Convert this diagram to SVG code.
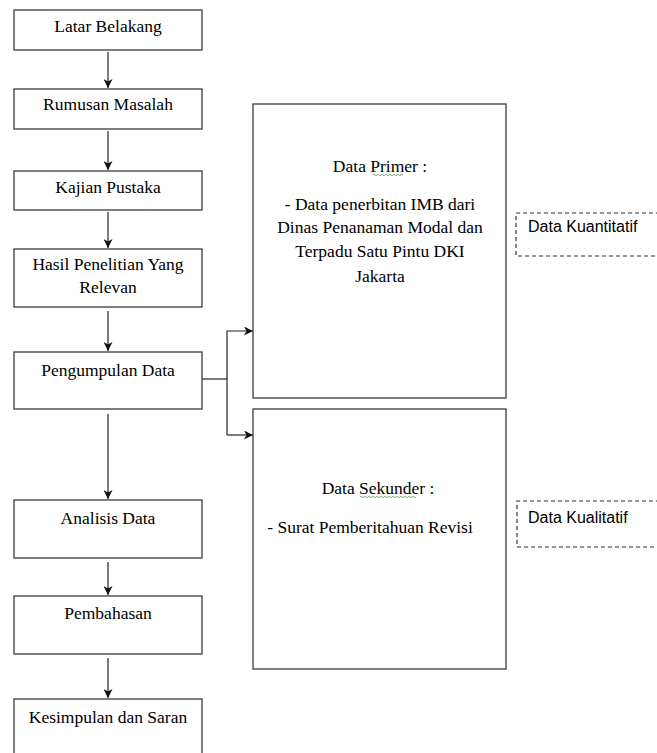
<svg xmlns="http://www.w3.org/2000/svg" width="657" height="753" viewBox="0 0 657 753">
<style>
.box{fill:#fff;stroke:#3a3a3a;stroke-width:1.3}
.dash{fill:none;stroke:#333;stroke-width:1.2;stroke-dasharray:4 3}
.t{font-family:"Liberation Serif","Times New Roman",serif;font-size:17.5px;fill:#000;text-anchor:middle}
.s{font-family:"Liberation Sans",Arial,sans-serif;font-size:16px;fill:#000}
.c{fill:none;stroke:#222;stroke-width:1.2}
</style>
<defs>
<marker id="ah" markerUnits="userSpaceOnUse" markerWidth="9" markerHeight="9" refX="9" refY="4.5" orient="auto">
<path d="M0,0 L9,4.5 L0,9 L2.5,4.5 z" fill="#111"/>
</marker>
</defs>
<g id="connectors">
<line class="c" x1="108" y1="52" x2="108" y2="88" marker-end="url(#ah)"/>
<line class="c" x1="108" y1="131" x2="108" y2="170" marker-end="url(#ah)"/>
<line class="c" x1="108" y1="212" x2="108" y2="248" marker-end="url(#ah)"/>
<line class="c" x1="108" y1="311" x2="108" y2="351" marker-end="url(#ah)"/>
<line class="c" x1="108" y1="414" x2="108" y2="499" marker-end="url(#ah)"/>
<line class="c" x1="108" y1="562" x2="108" y2="595" marker-end="url(#ah)"/>
<line class="c" x1="108" y1="658" x2="108" y2="698" marker-end="url(#ah)"/>
<polyline class="c" points="202,379 227,379"/>
<polyline class="c" points="227,435 227,331 253,331" marker-end="url(#ah)"/>
<polyline class="c" points="227,435 253,435" marker-end="url(#ah)"/>
</g>
<g id="latar">
<rect class="box" x="14" y="10" width="188" height="40"/>
<text class="t" x="108" y="32">Latar Belakang</text>
</g>
<g id="rumusan">
<rect class="box" x="14" y="89" width="188" height="40"/>
<text class="t" x="108" y="110">Rumusan Masalah</text>
</g>
<g id="kajian">
<rect class="box" x="14" y="171" width="188" height="39"/>
<text class="t" x="108" y="193">Kajian Pustaka</text>
</g>
<g id="hasil">
<rect class="box" x="14" y="249" width="188" height="58"/>
<text class="t" x="108" y="270">Hasil Penelitian Yang</text>
<text class="t" x="108" y="293">Relevan</text>
</g>
<g id="pengumpulan">
<rect class="box" x="14" y="352" width="188" height="57"/>
<text class="t" x="108" y="376">Pengumpulan Data</text>
</g>
<g id="analisis">
<rect class="box" x="14" y="500" width="188" height="58"/>
<text class="t" x="108" y="524">Analisis Data</text>
</g>
<g id="pembahasan">
<rect class="box" x="14" y="596" width="188" height="58"/>
<text class="t" x="108" y="619">Pembahasan</text>
</g>
<g id="kesimpulan">
<rect class="box" x="14" y="699" width="188" height="70"/>
<text class="t" x="108" y="723">Kesimpulan dan Saran</text>
</g>
<g id="primer">
<rect class="box" x="253" y="104" width="253" height="294"/>
<text class="t" x="380" y="172">Data Primer :</text>
<path d="M373,175 q1,-1.5 2,0 t2,0 t2,0 t2,0 t2,0 t2,0 t2,0 t2,0 t2,0 t2,0 t2,0 t2,0 t2,0 t2,0 t2,0" fill="none" stroke="#5aa05a" stroke-width="0.8"/>
<text class="t" x="380" y="210">- Data penerbitan IMB dari</text>
<text class="t" x="380" y="233">Dinas Penanaman Modal dan</text>
<text class="t" x="380" y="257">Terpadu Satu Pintu DKI</text>
<text class="t" x="380" y="282">Jakarta</text>
</g>
<g id="sekunder">
<rect class="box" x="253" y="409" width="253" height="260"/>
<text class="t" x="378" y="494">Data Sekunder :</text>
<path d="M360,497 q1,-1.5 2,0 t2,0 t2,0 t2,0 t2,0 t2,0 t2,0 t2,0 t2,0 t2,0 t2,0 t2,0 t2,0 t2,0 t2,0 t2,0 t2,0 t2,0 t2,0 t2,0 t2,0 t2,0 t2,0 t2,0 t2,0 t2,0 t2,0 t2,0" fill="none" stroke="#5aa05a" stroke-width="0.8"/>
<text class="t" x="370" y="533">- Surat Pemberitahuan Revisi</text>
</g>
<g id="kuantitatif">
<path class="dash" d="M660,213 L516,213 L516,256 L660,256"/>
<text class="s" x="528" y="232">Data Kuantitatif</text>
</g>
<g id="kualitatif">
<path class="dash" d="M660,501 L517,501 L517,547 L660,547"/>
<text class="s" x="528" y="523">Data Kualitatif</text>
</g>
</svg>
